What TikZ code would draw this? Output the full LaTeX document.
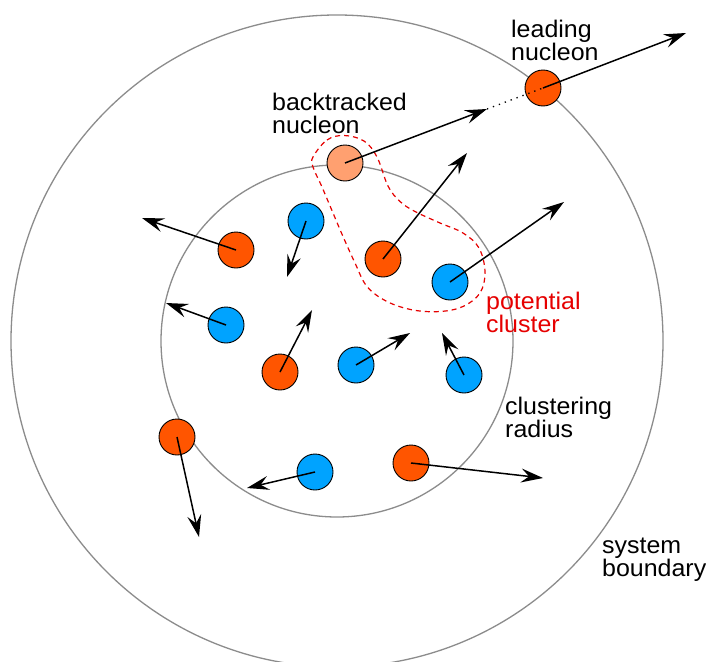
\documentclass[tikz,border=0pt]{standalone}
\usepackage{fontspec}
\setmainfont[FakeStretch=1.04]{Liberation Sans}
\usetikzlibrary{arrows.meta}
\definecolor{nucorange}{RGB}{255,85,0}
\definecolor{nucpeach}{RGB}{255,160,112}
\definecolor{nucblue}{RGB}{0,163,255}
\definecolor{ringgray}{RGB}{140,140,140}
\definecolor{clred}{RGB}{230,0,0}
\tikzset{
  ring/.style={draw=ringgray, line width=1.3pt},
  nuc/.style={circle, draw=black, line width=0.9pt, minimum size=36pt, inner sep=0pt},
  proton/.style={nuc, fill=nucorange},
  neutron/.style={nuc, fill=nucblue},
  backnuc/.style={nuc, fill=nucpeach},
  vec/.style={draw=black, line width=1.5pt, -{Stealth[length=22pt,width=14pt,inset=8pt]}},
  trace/.style={draw=black, line width=1.3pt, dash pattern=on 1.3pt off 5pt},
  lab/.style={font=\fontsize{24}{23}\selectfont, inner sep=0pt, anchor=base west, align=left},
  cluster/.style={draw=clred, line width=1.2pt, dash pattern=on 5pt off 4pt}
}
\begin{document}
\begin{tikzpicture}[x=1pt, y=-1pt]
\useasboundingbox (0,0) rectangle (706,661);
\clip (0,0) rectangle (706,661);
\fill[white] (0,0) rectangle (706,661);
% rings
\coordinate (ctr) at (337,341);
\draw[ring] (ctr) circle[radius=326];
\draw[ring] (ctr) circle[radius=176];
% potential cluster outline
\draw[cluster] plot[smooth cycle, tension=0.6] coordinates {
 (313,157) (327,140) (344,135.5) (364,141) (377,157) (388,186) (400,201.5) (415,211.5) (440,223) (463,233) (479,248) (485,272) (480,293) (463,306.5) (440,311.5) (413,310) (387,301.5) (367,286.5) (355,263) (343,236.5) (333,213) (322,187) (313,167)};
% nucleons
\node[proton]  (lead) at (543,88) {};
\node[backnuc] (back) at (345,163) {};
\node[proton]  (o1) at (236,250) {};
\node[neutron] (b1) at (306,221) {};
\node[proton]  (o2) at (383,259) {};
\node[neutron] (b2) at (450,282) {};
\node[neutron] (b3) at (226,325) {};
\node[proton]  (o3) at (280,372) {};
\node[neutron] (b4) at (356,365) {};
\node[neutron] (b5) at (464,375) {};
\node[proton]  (o4) at (177,437) {};
\node[neutron] (b6) at (315,472) {};
\node[proton]  (o5) at (411,463) {};
% arrow tips
\coordinate (tlead) at (686,33);
\coordinate (tback) at (487,109);
\coordinate (to1) at (142,218);
\coordinate (tb1) at (287,277);
\coordinate (to2) at (467,153);
\coordinate (tb2) at (564,202);
\coordinate (tb3) at (166,303);
\coordinate (to3) at (312,310);
\coordinate (tb4) at (410,333);
\coordinate (tb5) at (442,333);
\coordinate (to4) at (199,537);
\coordinate (tb6) at (247,488);
\coordinate (to5) at (543,478);
% momentum vectors
\draw[trace] (tback) -- (lead.center);
\draw[vec] (lead.center) -- (tlead);
\draw[vec] (back.center) -- (tback);
\draw[vec] (o1.center) -- (to1);
\draw[vec] (b1.center) -- (tb1);
\draw[vec] (o2.center) -- (to2);
\draw[vec] (b2.center) -- (tb2);
\draw[vec] (b3.center) -- (tb3);
\draw[vec] (o3.center) -- (to3);
\draw[vec] (b4.center) -- (tb4);
\draw[vec] (b5.center) -- (tb5);
\draw[vec] (o4.center) -- (to4);
\draw[vec] (b6.center) -- (tb6);
\draw[vec] (o5.center) -- (to5);
% labels (anchor at the baseline of the last line)
\node[lab] (llead) at (511,60) {leading\\nucleon};
\node[lab] (lback) at (272,133) {backtracked\\nucleon};
\node[lab, text=clred] (lclus) at (486,332) {potential\\cluster};
\node[lab] (lrad) at (505,437) {clustering\\radius};
\node[lab] (lsys) at (602,576) {system\\boundary};
\end{tikzpicture}
\end{document}
